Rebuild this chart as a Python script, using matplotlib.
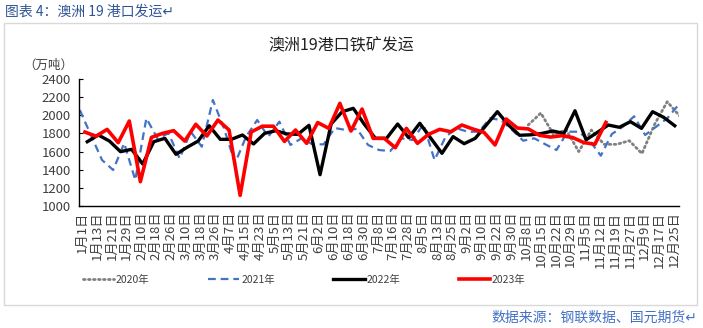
import numpy as np
import matplotlib
matplotlib.use('Agg')
import matplotlib.pyplot as plt
from matplotlib.patches import Rectangle

plt.rcParams['font.family'] = ['Noto Sans CJK SC', 'DejaVu Sans']

# category labels shown under the x axis
labels = ['1月1日', '1月13日', '1月21日', '1月29日', '2月10日', '2月18日', '2月26日',
          '3月10日', '3月18日', '3月26日', '4月7日', '4月15日', '4月23日', '5月5日',
          '5月13日', '5月21日', '6月2日', '6月10日', '6月18日', '6月30日', '7月8日',
          '7月16日', '7月28日', '8月5日', '8月13日', '8月25日', '9月2日', '9月10日',
          '9月22日', '9月30日', '10月8日', '10月15日', '10月22日', '10月29日', '11月5日',
          '11月12日', '11月19日', '11月27日', '12月9日', '12月17日', '12月25日']

# weekly shipments, 万吨
y2020 = [1893, 2025, 1790, 1840, 1600, 1838, 1680, 1680, 1720, 1578, 1900, 2150, 1990]
y2021 = [2058, 1780, 1507, 1397, 1691, 1287, 1967, 1746, 1801, 1525, 1819, 1654, 2169, 1856,
         1471, 1765, 1948, 1765, 1930, 1673, 1746, 1680, 1680, 1860, 1838, 1850, 1673, 1617,
         1606, 1746, 1728, 1901, 1507, 1765, 1856, 1819, 1819, 1967, 1948, 1838, 1720, 1746,
         1680, 1617, 1819, 1819, 1720, 1555, 1794, 1875, 1989, 1783, 1875, 1967, 2114]
y2022 = [1709, 1783, 1716, 1599, 1625, 1463, 1709, 1746, 1570, 1647, 1716, 1885, 1735, 1735,
         1783, 1684, 1801, 1830, 1795, 1790, 1890, 1345, 1905, 2040, 2077, 1900, 1746, 1746,
         1904, 1753, 1912, 1746, 1581, 1765, 1687, 1746, 1893, 2040, 1893, 1780, 1785, 1800,
         1827, 1800, 2050, 1730, 1810, 1893, 1868, 1930, 1856, 2040, 1978, 1885]
y2023 = [1815, 1770, 1845, 1698, 1937, 1268, 1757, 1801, 1831, 1716, 1901, 1772, 1948, 1838,
         1117, 1816, 1880, 1880, 1712, 1838, 1691, 1920, 1856, 2132, 1827, 2069, 1746, 1746,
         1643, 1856, 1691, 1790, 1845, 1819, 1893, 1849, 1812, 1673, 1959, 1860, 1850, 1780,
         1760, 1775, 1755, 1700, 1680, 1922]

# first week position of each series on the week axis
start2020, step2020 = 40.5, 1.14
start2021 = 0.05
start2022 = 0.72
start2023 = 0.51

x2020 = start2020 + step2020 * np.arange(len(y2020))
x2021 = start2021 + np.arange(len(y2021))
x2022 = start2022 + np.arange(len(y2022))
x2023 = start2023 + np.arange(len(y2023))

fig = plt.figure(figsize=(7.03, 3.28), dpi=100)
ax = fig.add_axes([0.1128, 0.372, 0.853, 0.387])

ax.plot(x2020, y2020, color='#808080', lw=2.0, linestyle=(0, (0.6, 1.2)),
        dash_capstyle='round', label='2020年')
ax.plot(x2021, y2021, color='#4472C4', lw=1.6, linestyle=(0, (3.5, 2.2)), label='2021年')
ax.plot(x2022, y2022, color='black', lw=2.4, label='2022年')
ax.plot(x2023, y2023, color='#FF0000', lw=2.6, label='2023年')

ax.set_xlim(0, 54.1)
ax.set_ylim(1000, 2400)
ax.set_yticks(range(1000, 2401, 200))
ax.tick_params(axis='y', direction='in', length=3, width=0.8, labelsize=9.5,
               labelcolor='#404040', pad=6)
ax.set_xticks(np.linspace(0.27, 53.67, len(labels)))
ax.set_xticklabels(labels, rotation=90, fontsize=9.5, color='#404040')
ax.tick_params(axis='x', length=0, pad=4)
for s in ['top', 'right']:
    ax.spines[s].set_visible(False)
ax.spines['left'].set_linewidth(1.0)
ax.spines['bottom'].set_linewidth(1.0)

fig.text(0.485, 0.86, '澳洲19港口铁矿发运', ha='center', va='center', fontsize=11.5, color='#222222')
fig.text(0.068, 0.80, '（万吨）', ha='center', va='center', fontsize=9, color='#404040')

leg = ax.legend(ncol=4, loc='center', bbox_to_anchor=(0.375, -0.58), frameon=False,
                fontsize=7.5, handlelength=3.0, handletextpad=0.2, columnspacing=5.6)
for t in leg.get_texts():
    t.set_color('#404040')

fig.patches.append(Rectangle((0.0057, 0.070), 0.986, 0.86, transform=fig.transFigure,
                             fill=False, edgecolor='#D9D9D9', lw=1.0))

fig.text(0.007, 0.965, '图表 4：澳洲 19 港口发运↵', ha='left', va='center', fontsize=10,
         color='#2F5496')
fig.text(0.992, 0.03, '数据来源：钢联数据、国元期货↵', ha='right', va='center', fontsize=10,
         color='#4472C4')

fig.savefig('out.png', dpi=100)
